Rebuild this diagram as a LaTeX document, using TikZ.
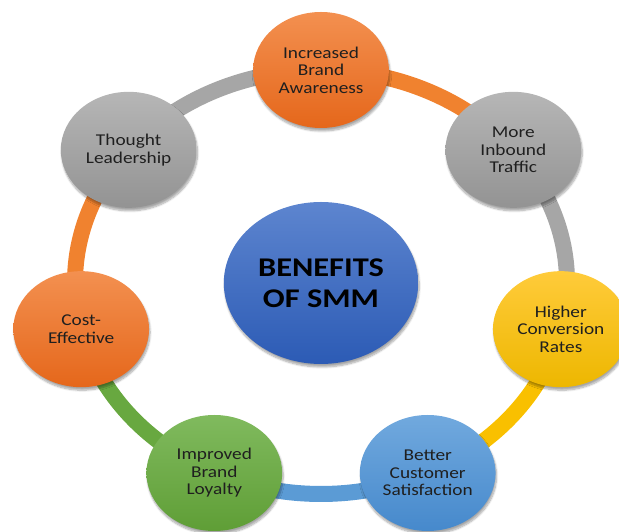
\documentclass[tikz,border=0pt]{standalone}
\usepackage{fontspec}
\setmainfont{Carlito}
\usetikzlibrary{calc,shadows.blur}

\definecolor{orangetop}{HTML}{F39050}
\definecolor{orangebot}{HTML}{E5671B}
\definecolor{graytop}{HTML}{B6B6B6}
\definecolor{graybot}{HTML}{939393}
\definecolor{yellowtop}{HTML}{FFCB3A}
\definecolor{yellowbot}{HTML}{EDB700}
\definecolor{bluetop}{HTML}{71A9DE}
\definecolor{bluebot}{HTML}{4689CC}
\definecolor{greentop}{HTML}{80BA5E}
\definecolor{greenbot}{HTML}{5F9E36}
\definecolor{hubtop}{HTML}{5D85CF}
\definecolor{hubbot}{HTML}{2C5BB5}
\definecolor{orangebar}{HTML}{F0822F}
\definecolor{graybar}{HTML}{A6A6A6}
\definecolor{yellowbar}{HTML}{F9C000}
\definecolor{bluebar}{HTML}{5B9BD5}
\definecolor{greenbar}{HTML}{68A840}

\tikzset{
	bubble/.style={circle, minimum size=116pt, inner sep=0pt, xscale=1.17, align=center,
		text=black!88, font=\fontsize{16.5}{17.6}\selectfont,
		blur shadow={shadow xshift=1pt, shadow yshift=-3pt, shadow blur steps=8, shadow opacity=35}},
	hub/.style={circle, minimum size=162pt, inner sep=0pt, xscale=1.2, align=center,
		top color=hubtop, bottom color=hubbot, font=\bfseries\fontsize{27}{31}\selectfont,
		blur shadow={shadow xshift=1pt, shadow yshift=-3pt, shadow blur steps=8, shadow opacity=35}},
	ring/.style={line width=16pt}
}

\begin{document}
\begin{tikzpicture}[x=1pt,y=1pt]
	\useasboundingbox (0,0) rectangle (619,532);
	
	%ring points
	\coordinate (o) at (321,250);
	\coordinate (p1) at ($(o)+(90:246 and 212)$);
	\coordinate (p2) at ($(o)+(38.57:246 and 212)$);
	\coordinate (p3) at ($(o)+(-12.86:246 and 212)$);
	\coordinate (p4) at ($(o)+(-64.29:246 and 212)$);
	\coordinate (p5) at ($(o)+(-115.71:246 and 212)$);
	\coordinate (p6) at ($(o)+(-167.14:246 and 212)$);
	\coordinate (p7) at ($(o)+(141.43:246 and 212)$);
	
	%ring
	\draw[ring, orangebar] (p1) arc[start angle=90, end angle=38.57, x radius=246pt, y radius=212pt];
	\draw[ring, graybar] (p2) arc[start angle=38.57, end angle=-12.86, x radius=246pt, y radius=212pt];
	\draw[ring, yellowbar] (p3) arc[start angle=-12.86, end angle=-64.29, x radius=246pt, y radius=212pt];
	\draw[ring, bluebar] (p4) arc[start angle=-64.29, end angle=-115.71, x radius=246pt, y radius=212pt];
	\draw[ring, greenbar] (p5) arc[start angle=-115.71, end angle=-167.14, x radius=246pt, y radius=212pt];
	\draw[ring, orangebar] (p6) arc[start angle=-167.14, end angle=-218.57, x radius=246pt, y radius=212pt];
	\draw[ring, graybar] (p7) arc[start angle=141.43, end angle=90, x radius=246pt, y radius=212pt];
	
	%bubbles
	\node[bubble, top color=orangetop, bottom color=orangebot] (aware) at (p1) {Increased\\Brand\\Awareness};
	\node[bubble, top color=graytop, bottom color=graybot] (traffic) at (p2) {More\\Inbound\\Traffic};
	\node[bubble, top color=yellowtop, bottom color=yellowbot] (conv) at (p3) {Higher\\Conversion\\Rates};
	\node[bubble, top color=bluetop, bottom color=bluebot] (satis) at (p4) {Better\\Customer\\Satisfaction};
	\node[bubble, top color=greentop, bottom color=greenbot] (loyal) at (p5) {Improved\\Brand\\Loyalty};
	\node[bubble, top color=orangetop, bottom color=orangebot] (cost) at (p6) {Cost-\\Effective};
	\node[bubble, top color=graytop, bottom color=graybot] (lead) at (p7) {Thought\\Leadership};
	
	%centre
	\node[hub] (smm) at (321,249) {BENEFITS\\OF SMM};
\end{tikzpicture}
\end{document}
